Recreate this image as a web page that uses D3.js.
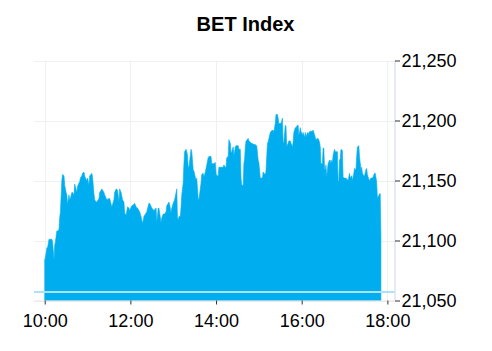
<!DOCTYPE html>
<html>
<head>
<meta charset="utf-8">
<script src="https://cdn.jsdelivr.net/npm/d3@7"></script>
<style>
  html, body { margin: 0; padding: 0; background: #fff; }
  svg { display: block; font-family: "Liberation Sans", Arial, sans-serif; }
</style>
</head>
<body>
<svg id="chart" width="492" height="351"></svg>
<script>
const title = "BET Index";
const times = [
"10:00","10:01","10:03","10:04","10:06","10:08","10:10","10:11","10:13","10:14","10:15","10:17","10:18","10:20","10:21","10:22","10:24","10:25","10:27","10:28",
"10:30","10:31","10:32","10:34","10:35","10:36","10:38","10:39","10:41","10:42","10:43","10:45","10:46","10:48","10:49","10:50","10:52","10:53","10:55","10:56",
"10:57","10:59","11:00","11:02","11:03","11:05","11:06","11:07","11:09","11:10","11:12",
"11:13","11:16","11:17","11:20","11:23","11:24","11:27","11:30","11:31","11:34","11:37","11:38","11:40","11:42","11:44","11:45","11:47","11:49","11:51","11:52",
"11:54","11:56","11:58","11:59","12:02","12:05","12:06","12:08","12:10","12:13","12:15","12:17","12:19","12:20","12:23","12:26","12:27","12:30","12:33",
"12:36","12:37","12:39","12:40","12:41","12:43","12:44","12:46","12:48","12:50","12:51","12:53","12:54","12:55","12:57","12:58","13:00","13:02","13:04","13:05",
"13:06","13:07","13:08","13:10","13:11","13:12","13:14","13:15","13:16","13:18","13:19","13:20","13:21","13:22","13:25","13:26","13:28","13:29","13:32","13:33",
"13:35","13:36","13:39","13:40","13:42","13:43","13:45","13:46","13:47","13:49","13:50","13:53",
"13:54","13:57","13:59","14:00","14:01","14:03","14:04","14:07","14:10","14:11","14:13","14:14","14:15","14:17","14:18","14:20","14:21","14:22","14:24","14:25",
"14:26","14:27","14:28","14:31","14:32","14:34","14:35","14:36","14:38","14:39","14:40","14:41","14:42","14:45","14:46","14:48","14:49","14:50","14:53","14:55",
"14:56","14:57","14:59","15:00","15:02","15:05","15:06","15:07","15:09","15:10","15:12","15:13",
"15:14","15:16","15:17","15:20","15:21","15:23","15:24","15:26","15:27","15:28","15:30","15:31","15:33","15:34","15:35","15:37","15:38","15:39","15:40","15:41",
"15:42","15:44","15:45","15:47","15:48","15:49","15:51","15:52","15:54","15:55","15:56","15:57","15:58","15:59","16:01","16:02","16:04","16:05","16:06","16:08",
"16:09","16:10","16:12","16:13","16:15","16:16","16:19","16:20","16:22","16:23","16:25","16:26","16:27","16:29","16:30","16:31","16:32","16:33",
"16:34","16:35","16:37","16:39","16:40","16:41","16:43","16:44","16:46","16:47","16:50","16:51","16:52","16:53","16:54","16:55","16:57","16:58","16:59","17:01",
"17:02","17:05","17:07","17:08","17:10","17:11","17:13","17:14","17:16","17:17","17:18","17:20","17:21","17:23","17:24","17:25","17:27","17:28","17:30","17:31",
"17:32","17:34","17:35","17:37","17:39","17:40","17:42","17:43","17:45","17:46","17:47","17:49","17:50","17:51"
];
const values = [
21084,21086,21094,21094,21101,21101,21101,21099,21084,21096,21099,21108,21108,21109,21119,21124,21150,21155,21154,21146,
21140,21138,21130,21138,21134,21135,21140,21140,21138,21147,21145,21140,21145,21148,21149,21152,21154,21156,21157,21154,
21152,21150,21152,21146,21154,21155,21156,21153,21139,21134,21132,
21132,21135,21140,21143,21140,21138,21134,21135,21135,21128,21134,21140,21143,21142,21132,21143,21140,21134,21132,21123,
21121,21128,21127,21125,21129,21130,21131,21128,21127,21124,21120,21114,21120,21121,21124,21131,21131,21127,21125,
21127,21115,21127,21127,21123,21115,21119,21122,21122,21124,21129,21131,21132,21130,21123,21127,21131,21134,21140,21143,
21119,21117,21120,21120,21128,21138,21148,21164,21174,21176,21174,21171,21161,21161,21176,21174,21159,21158,21150,21152,
21135,21134,21148,21155,21156,21153,21157,21160,21163,21169,21170,21170,
21164,21164,21165,21156,21154,21154,21161,21161,21161,21163,21161,21161,21169,21170,21184,21181,21173,21174,21178,21171,
21174,21178,21179,21179,21176,21176,21152,21146,21146,21164,21168,21178,21183,21185,21183,21182,21181,21181,21180,21180,
21179,21179,21167,21165,21152,21152,21157,21156,21155,21158,21181,21182,
21185,21190,21191,21192,21190,21198,21205,21205,21202,21197,21198,21197,21202,21181,21182,21196,21195,21178,21180,21181,
21183,21183,21181,21178,21182,21190,21194,21194,21196,21196,21188,21190,21194,21191,21188,21190,21186,21190,21186,21190,
21188,21190,21191,21191,21191,21192,21186,21184,21185,21185,21182,21178,21164,21164,21177,21177,21160,21159,
21163,21153,21164,21167,21164,21167,21165,21171,21176,21174,21174,21149,21150,21167,21168,21176,21175,21153,21152,21152,
21152,21150,21156,21152,21154,21150,21156,21160,21159,21170,21178,21179,21170,21159,21161,21156,21154,21154,21159,21160,
21155,21151,21150,21152,21152,21153,21156,21156,21149,21136,21136,21139,21139,21104
];
const yTicks = [21050, 21100, 21150, 21200, 21250];
const xTickLabels = ["10:00", "12:00", "14:00", "16:00", "18:00"];
const xDomainLabels = ["09:45", "18:10"];
const refLevel = [21057];

const parse = d3.timeParse("%H:%M");
const data = times.map((t, i) => ({ t: parse(t), v: values[i] }));

const svg = d3.select("#chart");
const pL = 34, pR = 394.5, pT = 60.5, pB = 300.5;

const x = d3.scaleTime().domain(xDomainLabels.map(parse)).range([pL, pR]);
const y = d3.scaleLinear().domain([21050, 21250]).range([pB, pT]);

// title
svg.append("text")
  .attr("x", 245.5).attr("y", 31)
  .attr("text-anchor", "middle")
  .attr("font-size", 20).attr("font-weight", "bold")
  .attr("fill", "#000")
  .text(title);

// gridlines
const grid = svg.append("g");
grid.selectAll("line.h").data(yTicks).join("line")
  .attr("x1", pL).attr("x2", pR)
  .attr("y1", d => Math.round(y(d)) + 0.5).attr("y2", d => Math.round(y(d)) + 0.5)
  .attr("stroke", "#f0f0f0").attr("stroke-width", 1);
grid.selectAll("line.v").data(xTickLabels).join("line")
  .attr("x1", d => Math.round(x(parse(d))) + 0.5).attr("x2", d => Math.round(x(parse(d))) + 0.5)
  .attr("y1", pT).attr("y2", pB)
  .attr("stroke", "#f0f0f0").attr("stroke-width", 1);

// area
const area = d3.area()
  .x(d => x(d.t))
  .y0(y(21050))
  .y1(d => y(d.v))
  .curve(d3.curveLinear);
svg.append("path")
  .datum(data)
  .attr("d", area)
  .attr("fill", "#00aeef")
  .attr("stroke", "#00aeef")
  .attr("stroke-width", 0.6);

// reference line
svg.selectAll("line.ref").data(refLevel).join("line")
  .attr("x1", pL).attr("x2", pR)
  .attr("y1", d => y(d)).attr("y2", d => y(d))
  .attr("stroke", "#ade1f8").attr("stroke-width", 2);

// bottom axis line
svg.append("line")
  .attr("x1", pL).attr("x2", pR)
  .attr("y1", pB + 0.5).attr("y2", pB + 0.5)
  .attr("stroke", "#e6e6e6");

// right axis
const yAxis = d3.axisRight(y)
  .tickValues(yTicks)
  .tickSize(5)
  .tickPadding(2)
  .tickFormat(d3.format(","));
const gy = svg.append("g").attr("transform", `translate(${pR},0)`).call(yAxis);
gy.select(".domain").attr("stroke", "#ccd6eb").attr("d", `M0.5,${pT}V${pB}`);
gy.selectAll(".tick line").attr("stroke", "#333").attr("transform", "translate(0.5,0)");
gy.selectAll(".tick text")
  .attr("font-size", 18).attr("fill", "#000")
  .attr("font-family", "Liberation Sans, Arial, sans-serif");

// bottom axis
const xAxis = d3.axisBottom(x)
  .tickValues(xTickLabels.map(parse))
  .tickSize(4)
  .tickPadding(10)
  .tickFormat(d3.timeFormat("%H:%M"));
const gx = svg.append("g").attr("transform", `translate(0,${pB})`).call(xAxis);
gx.select(".domain").remove();
gx.selectAll(".tick line").attr("stroke", "#333");
gx.selectAll(".tick text")
  .attr("font-size", 18).attr("fill", "#000")
  .attr("font-family", "Liberation Sans, Arial, sans-serif");
</script>
</body>
</html>
